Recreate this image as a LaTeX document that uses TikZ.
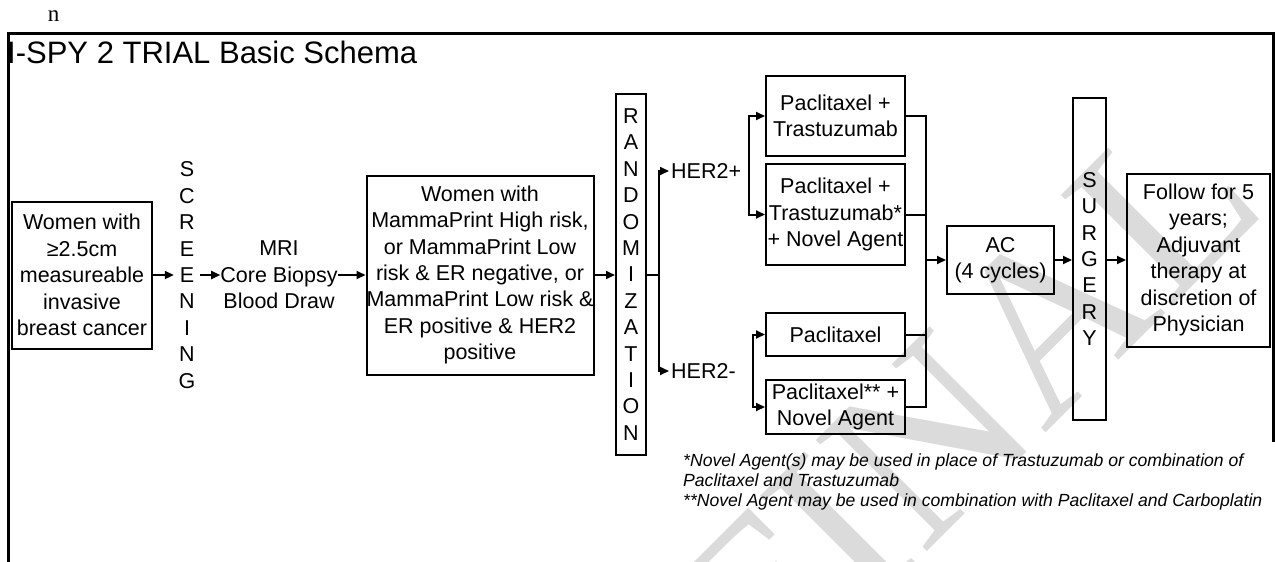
\documentclass[tikz,border=0pt]{standalone}
\usepackage{fontspec}
\setmainfont{Liberation Sans}
\newfontfamily\seriffont{Liberation Serif}
\usetikzlibrary{arrows.meta}
\begin{document}
\begin{tikzpicture}[x=1pt,y=-1pt,
  box/.style={draw,line width=2pt,inner sep=0pt,align=center,font=\fontsize{21.5}{26.4}\selectfont},
  txt/.style={inner sep=0pt,align=center,font=\fontsize{21.5}{26.4}\selectfont},
  arr/.style={line width=2pt,-{Triangle[length=9pt,width=8pt]}},
  ln/.style={line width=2pt},
  foot/.style={inner sep=0pt,anchor=base west,font=\fontsize{17.6}{20}\selectfont\itshape}]
\useasboundingbox (0,0) rectangle (1275,562);
% watermark
\node[rotate=45,text=black!14,inner sep=0pt,font=\fontsize{240}{240}\seriffont] (wm) at (965,402) {FINAL};
% top mark and frame
\node[inner sep=0pt,anchor=base,font=\fontsize{23}{26}\seriffont] (n) at (53.5,21) {n};
\coordinate (fbl) at (8.5,562);
\coordinate (ftl) at (8.5,33);
\coordinate (ftr) at (1273,33);
\coordinate (fbr) at (1273,442);
\draw[line width=3pt] (fbl) -- (ftl) -- (ftr) -- (fbr);
\node[anchor=base west,inner sep=0pt,font=\fontsize{31}{36}\selectfont] (title) at (7,63) {I-SPY 2 TRIAL Basic Schema};
% left part
\node[box,minimum width=140,minimum height=147] (b1) at (82,275) {Women with\\≥2.5cm\\measureable\\invasive\\breast cancer};
\node[txt,minimum width=26] (scr) at (187,275) {S\\C\\R\\E\\E\\N\\I\\N\\G};
\node[txt,minimum width=117] (mri) at (279,275) {MRI\\Core Biopsy\\Blood Draw};
\node[box,minimum width=226,minimum height=199] (b3) at (480,275) {Women with\\MammaPrint High risk,\\or MammaPrint Low\\risk \& ER negative, or\\MammaPrint Low risk \&\\ER positive \& HER2\\positive};
\node[box,minimum width=30,minimum height=361] (rand) at (631,274.5) {R\\A\\N\\D\\O\\M\\I\\Z\\A\\T\\I\\O\\N};
\draw[arr] (b1.east) -- (scr.west);
\draw[arr] (scr.east) -- (mri.west);
\draw[arr] (mri.east) -- (b3.west);
\draw[arr] (b3.east) -- (b3.east -| rand.west);
% HER2 split
\node[txt,anchor=west,inner xsep=2pt] (hp) at (669,171) {HER2+};
\node[txt,anchor=west,inner xsep=2pt] (hn) at (669,371) {HER2-};
\coordinate (jr) at (659,274.5);
\draw[ln] (rand.east) -- (jr);
\draw[arr] (jr) |- (hp.west);
\draw[arr] (jr) |- (hn.west);
% treatment boxes
\node[box,minimum width=139,minimum height=80] (pt1) at (835.5,116) {Paclitaxel +\\Trastuzumab};
\node[box,minimum width=139,minimum height=101] (pt2) at (835.5,214.5) {Paclitaxel +\\Trastuzumab*\\+ Novel Agent};
\node[box,minimum width=139,minimum height=43] (p1) at (835.5,334.5) {Paclitaxel};
\node[box,minimum width=139,minimum height=54] (p2) at (835.5,407) {Paclitaxel** +\\Novel Agent};
\coordinate (hpj) at (749,166);
\draw[arr] (hpj) |- (pt1.west);
\draw[arr] (hpj) |- (pt2.west);
\coordinate (hnj) at (753,371);
\draw[arr] (hnj) |- (p1.west);
\draw[arr] (hnj) |- (p2.west);
% merge
\node[box,minimum width=107,minimum height=68] (ac) at (1000.5,260) {AC\\(4 cycles)};
\coordinate (mj) at (925.5,260);
\draw[ln] (pt1.east) -| (mj);
\draw[ln] (pt2.east) -| (mj);
\draw[ln] (p1.east) -| (mj);
\draw[ln] (p2.east) -| (mj);
\draw[arr] (mj) -- (ac.west);
\node[box,minimum width=33,minimum height=322] (surg) at (1089.5,259) {S\\U\\R\\G\\E\\R\\Y};
\node[box,minimum width=143,minimum height=173] (fol) at (1198.5,260) {Follow for 5\\years;\\Adjuvant\\therapy at\\discretion of\\Physician};
\draw[arr] (ac.east) -- (ac.east -| surg.west);
\draw[arr] (surg.east |- fol.west) -- (fol.west);
% footnotes
\node[foot] (fn1) at (683,466) {*Novel Agent(s) may be used in place of Trastuzumab or combination of};
\node[foot] (fn2) at (683,486) {Paclitaxel and Trastuzumab};
\node[foot] (fn3) at (683,506) {**Novel Agent may be used in combination with Paclitaxel and Carboplatin};
\end{tikzpicture}
\end{document}
